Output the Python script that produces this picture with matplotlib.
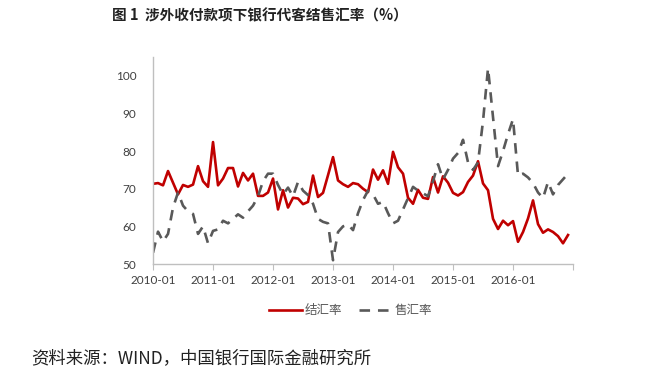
import numpy as np
import matplotlib
matplotlib.use("Agg")
import matplotlib.pyplot as plt

plt.rcParams['font.family'] = ['Noto Sans CJK SC', 'DejaVu Sans']

# 月度数据 2010-01 ~ 2016-12
jiehui = [71.3, 71.5, 70.9, 74.7, 71.6, 68.5, 71.0, 70.5, 71.1, 76.0, 72.0, 70.5,
          82.4, 70.9, 72.7, 75.5, 75.5, 70.6, 74.2, 72.2, 74.0, 68.1, 68.1, 69.0,
          72.7, 64.5, 69.6, 65.0, 67.6, 67.4, 65.9, 66.5, 73.5, 67.8, 68.9, 73.6,
          78.4, 72.2, 71.2, 70.5, 71.5, 71.2, 70.0, 69.1, 75.1, 72.4, 74.9, 71.3,
          79.8, 75.7, 74.0, 67.6, 66.0, 69.7, 67.6, 67.3, 73.1, 69.0, 73.3, 71.6,
          68.9, 68.2, 69.1, 71.8, 73.5, 77.3, 71.4, 69.6, 62.0, 59.3, 61.5, 60.3,
          61.4, 55.9, 58.5, 62.1, 66.9, 60.6, 58.3, 59.2, 58.5, 57.4, 55.5, 57.7]

shouhui = [53.0, 58.6, 56.0, 58.0, 65.0, 69.0, 65.5, 64.0, 63.3, 58.0, 60.0, 55.5,
           58.8, 59.2, 61.5, 60.8, 62.0, 63.2, 62.3, 64.0, 65.5, 68.0, 72.0, 74.0,
           74.0, 71.0, 68.5, 70.3, 68.0, 71.8, 69.5, 68.3, 66.0, 62.0, 61.2, 60.8,
           51.0, 58.5, 60.0, 60.5, 59.0, 63.5, 67.0, 69.5, 68.5, 66.0, 66.5, 63.5,
           60.8, 61.5, 64.5, 67.5, 70.5, 69.5, 68.8, 68.0, 72.0, 76.5, 72.5, 75.0,
           78.0, 79.5, 83.0, 77.0, 75.0, 77.0, 88.0, 102.0, 89.0, 76.0, 80.0, 84.5,
           88.5, 73.5, 74.0, 73.0, 71.5, 69.0, 67.5, 71.8, 68.5, 71.0, 72.5, 74.0]

year_labels = ["2010-01", "2011-01", "2012-01", "2013-01", "2014-01", "2015-01", "2016-01"]

x = np.arange(len(jiehui))

fig = plt.figure(figsize=(6.61, 3.73), dpi=100)
ax = fig.add_axes([0.2315, 0.2922, 0.6354, 0.555])

ax.plot(x, jiehui, color="#C00000", lw=1.9, label="结汇率")
ax.plot(x, shouhui, color="#595959", lw=1.9, dashes=(4, 3), label="售汇率")

ax.set_xlim(0, 84)
ax.set_ylim(50, 105)
ax.set_yticks(range(50, 101, 10))
ax.set_xticks(range(0, 85, 12))
ax.set_xticklabels(year_labels + [""])

for s in ["top", "right"]:
    ax.spines[s].set_visible(False)
for s in ["left", "bottom"]:
    ax.spines[s].set_color("#BFBFBF")
    ax.spines[s].set_linewidth(1)

ax.tick_params(axis="x", length=4, color="#BFBFBF", pad=4, labelsize=8.5, labelcolor="#404040")
ax.tick_params(axis="y", length=0, pad=12, labelsize=8.5, labelcolor="#404040")
for lab in ax.get_xticklabels() + ax.get_yticklabels():
    lab.set_family(["Lato", "DejaVu Sans"])

leg = ax.legend(loc="center", bbox_to_anchor=(0.47, -0.225), ncol=2, frameon=False,
                fontsize=9, handlelength=2.7, columnspacing=1.3, handletextpad=0.2)
for t in leg.get_texts():
    t.set_color("#595959")

fig.text(0.393, 0.958, "图 1  涉外收付款项下银行代客结售汇率（%）", ha="center", va="center",
         fontsize=10.5, fontweight="bold", color="#222222")
fig.text(0.047, 0.04, "资料来源：WIND，中国银行国际金融研究所", ha="left", va="center",
         fontsize=12.5, color="#222222")

fig.savefig("out.png", dpi=100)
